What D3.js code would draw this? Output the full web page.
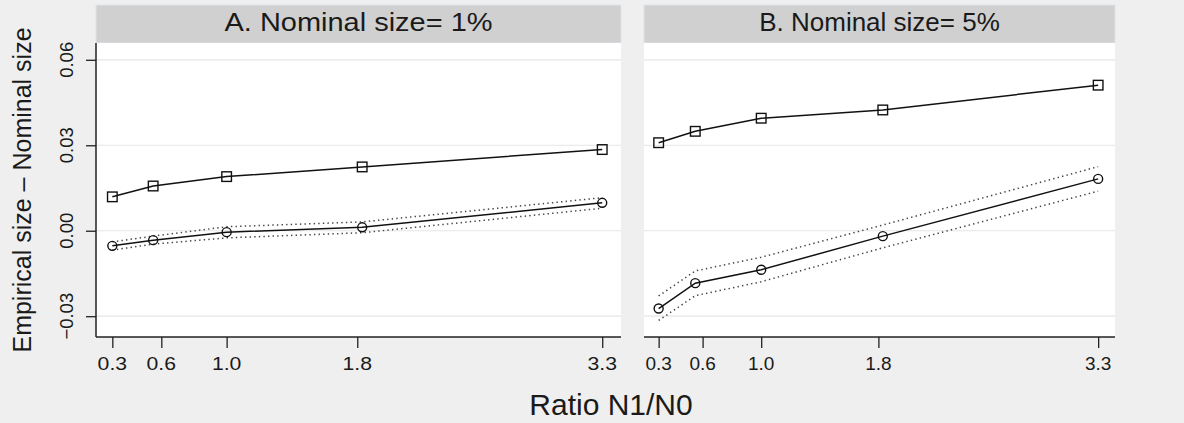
<!DOCTYPE html>
<html>
<head>
<meta charset="utf-8">
<script src="https://cdn.jsdelivr.net/npm/d3@7"></script>
<style>
  html, body { margin: 0; padding: 0; background: #efefef; }
  svg { display: block; }
  text { font-family: "Liberation Sans", Arial, Helvetica, sans-serif; fill: #1a1a1a; }
</style>
</head>
<body>
<svg id="chart" width="1184" height="423"></svg>
<script>
// ---- data ----
const ratios = [0.3, 0.55, 1.0, 1.83, 3.3];
const xTickValues = [0.3, 0.6, 1.0, 1.8, 3.3];
const xTickLabels = ["0.3", "0.6", "1.0", "1.8", "3.3"];
const yTickValues = [-0.03, 0.0, 0.03, 0.06];
const yTickLabels = ["\u22120.03", "0.00", "0.03", "0.06"];
const panelTitles = ["A. Nominal size= 1%", "B. Nominal size= 5%"];

const squaresA = [0.0119, 0.0157, 0.0190, 0.0224, 0.0285];
const circlesA = [-0.0053, -0.0033, -0.0005, 0.0012, 0.0098];
const circlesA_hi = [-0.0039, -0.0019, 0.0014, 0.0031, 0.0116];
const circlesA_lo = [-0.0068, -0.0047, -0.0025, -0.0007, 0.0079];

const squaresB = [0.0309, 0.0349, 0.0395, 0.0424, 0.0511];
const circlesB = [-0.0273, -0.0184, -0.0137, -0.0019, 0.0182];
const circlesB_hi = [-0.0229, -0.0141, -0.0093, 0.0020, 0.0225];
const circlesB_lo = [-0.0315, -0.0228, -0.0179, -0.0060, 0.0139];

const yTitle = "Empirical size \u2013 Nominal size";
const xTitle = "Ratio N1/N0";

// ---- layout ----
const svg = d3.select("#chart");
const plotTop = 43, plotBottom = 337, stripTop = 5;
const panels = [
  { left: 96, right: 621, title: panelTitles[0], sq: squaresA, ci: circlesA, hi: circlesA_hi, lo: circlesA_lo, stretch: 1.115, yAxis: true },
  { left: 644, right: 1115, title: panelTitles[1], sq: squaresB, ci: circlesB, hi: circlesB_hi, lo: circlesB_lo, stretch: 1.0, yAxis: false }
];

const y = d3.scaleLinear().domain([-0.0373, 0.0659]).range([plotBottom, plotTop]);

panels.forEach(p => {
  const x = d3.scaleLinear().domain([0.2, 3.415]).range([p.left, p.right]);
  const g = svg.append("g");

  // strip
  g.append("rect").attr("x", p.left).attr("y", stripTop)
    .attr("width", p.right - p.left).attr("height", plotTop - stripTop)
    .attr("fill", "#d0d0d0").attr("stroke", "#dde5ec").attr("stroke-width", 1);
  g.append("g").attr("transform", `translate(${(p.left + p.right) / 2},30.5) scale(${p.stretch},1)`)
    .append("text").attr("text-anchor", "middle").style("font-size", "26px").text(p.title);

  // plot area
  g.append("rect").attr("x", p.left).attr("y", plotTop)
    .attr("width", p.right - p.left).attr("height", plotBottom - plotTop).attr("fill", "#ffffff");

  // gridlines
  g.selectAll(".grid").data(yTickValues).enter().append("line")
    .attr("x1", p.left).attr("x2", p.right)
    .attr("y1", d => y(d)).attr("y2", d => y(d))
    .attr("stroke", "#e6e6e6").attr("stroke-width", 1.2);

  // x axis
  const xAxis = d3.axisBottom(x).tickValues(xTickValues).tickSize(11).tickFormat("");
  const xa = g.append("g").attr("transform", `translate(0,${plotBottom})`).call(xAxis);
  xa.select(".domain").attr("stroke", "#222").attr("stroke-width", 1.5)
    .attr("d", `M${p.left},0H${p.right}`);
  xa.selectAll(".tick line").attr("stroke", "#222").attr("stroke-width", 1.3);
  xTickValues.forEach((v, i) => {
    g.append("g").attr("transform", `translate(${x(v)},369.5) scale(${p.stretch},1)`)
      .append("text").attr("text-anchor", "middle").style("font-size", "19px").text(xTickLabels[i]);
  });

  // y axis (panel A only)
  if (p.yAxis) {
    const yAxis = d3.axisLeft(y).tickValues(yTickValues).tickSize(10).tickFormat("");
    const ya = g.append("g").attr("transform", `translate(${p.left},0)`).call(yAxis);
    ya.select(".domain").attr("stroke", "#222").attr("stroke-width", 1.5)
      .attr("d", `M0,${plotTop}V${plotBottom}`);
    ya.selectAll(".tick line").attr("stroke", "#222").attr("stroke-width", 1.3);
    yTickValues.forEach((v, i) => {
      g.append("text").attr("transform", `translate(72.5,${y(v)}) rotate(-90)`)
        .attr("text-anchor", "middle").style("font-size", "18.5px").text(yTickLabels[i]);
    });
  }

  const line = d3.line().x(d => x(d[0])).y(d => y(d[1]));
  const pts = arr => ratios.map((r, i) => [r, arr[i]]);

  // CI dotted lines
  [p.hi, p.lo].forEach(arr => {
    g.append("path").attr("d", line(pts(arr))).attr("fill", "none")
      .attr("stroke", "#444").attr("stroke-width", 1.5).attr("stroke-dasharray", "1.4,3.2");
  });

  // solid lines
  [p.sq, p.ci].forEach(arr => {
    g.append("path").attr("d", line(pts(arr))).attr("fill", "none")
      .attr("stroke", "#111").attr("stroke-width", 1.5);
  });

  // markers
  g.selectAll(".sq").data(pts(p.sq)).enter().append("rect")
    .attr("x", d => x(d[0]) - 4.8).attr("y", d => y(d[1]) - 4.8)
    .attr("width", 9.6).attr("height", 9.6)
    .attr("fill", "none").attr("stroke", "#111").attr("stroke-width", 1.4);
  g.selectAll(".ci").data(pts(p.ci)).enter().append("circle")
    .attr("cx", d => x(d[0])).attr("cy", d => y(d[1])).attr("r", 4.5)
    .attr("fill", "none").attr("stroke", "#111").attr("stroke-width", 1.4);
});

// axis titles
svg.append("text").attr("transform", `translate(31,${(plotTop + plotBottom) / 2}) rotate(-90)`)
  .attr("text-anchor", "middle").style("font-size", "25px").text(yTitle);
svg.append("text").attr("x", 611).attr("y", 415)
  .attr("text-anchor", "middle").style("font-size", "30px").text(xTitle);
</script>
</body>
</html>
